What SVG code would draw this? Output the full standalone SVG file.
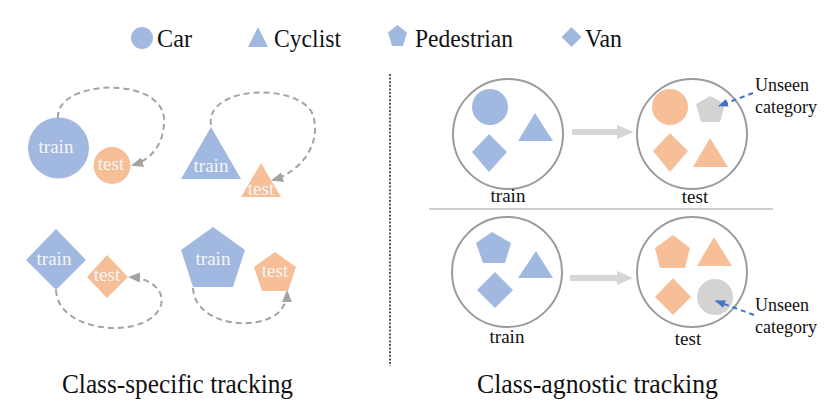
<svg xmlns="http://www.w3.org/2000/svg" width="831" height="416" viewBox="0 0 831 416" font-family="'Liberation Serif', 'DejaVu Serif', serif">
<style>
text{font-family:'Liberation Serif','DejaVu Serif',serif;fill:#111}
.b{fill:#A1B9E1}
.o{fill:#F6BF98}
.g{fill:#D3D3D3}
.lbl{fill:#F5F5F5;font-size:19px;text-anchor:middle}
.big{fill:#fff;stroke:#9B9B9B;stroke-width:2}
.cap{font-size:19px;text-anchor:middle}
.un{font-size:18px}
.leg{font-size:26px}
.ttl{font-size:28px}
.arc{fill:none;stroke:#A3A3A3;stroke-width:2;stroke-dasharray:6 4}
.bd{fill:none;stroke:#4472C4;stroke-width:2;stroke-dasharray:5 4}
</style>
<defs>
<marker id="ga" markerWidth="12" markerHeight="10" refX="10" refY="5" orient="auto" markerUnits="userSpaceOnUse"><path d="M0,0 L12,5 L0,10 z" fill="#A3A3A3"/></marker>
<marker id="ba" markerWidth="10" markerHeight="8" refX="9" refY="4" orient="auto" markerUnits="userSpaceOnUse"><path d="M0,0 L10,4 L0,8 z" fill="#4472C4"/></marker>
</defs>

<g id="legend">
<circle class="b" cx="142" cy="38" r="11"/>
<text class="leg" x="157" y="47" textLength="35" lengthAdjust="spacingAndGlyphs">Car</text>
<polygon class="b" points="258,27 248,47 268,47"/>
<text class="leg" x="274" y="47" textLength="67" lengthAdjust="spacingAndGlyphs">Cyclist</text>
<polygon class="b" points="397.5,25 407,32.5 403,46 392,46 388,32.5"/>
<text class="leg" x="415" y="47" textLength="98" lengthAdjust="spacingAndGlyphs">Pedestrian</text>
<polygon class="b" points="571.5,27 581.5,37 571.5,47 561.5,37"/>
<text class="leg" x="585" y="47" textLength="37" lengthAdjust="spacingAndGlyphs">Van</text>
</g>

<g id="dividers">
<line x1="390" y1="74" x2="390" y2="366" stroke="#222" stroke-width="1.5" stroke-dasharray="2 1.6"/>
<line x1="429" y1="209" x2="773" y2="209" stroke="#BDBDBD" stroke-width="1.5"/>
</g>

<g id="car-train"><circle class="b" cx="58.5" cy="148" r="30.5"/><text class="lbl" x="56" y="153">train</text></g>
<g id="car-test"><circle class="o" cx="112" cy="165.5" r="18.5"/><text class="lbl" x="111" y="170">test</text></g>
<g id="cyc-train"><polygon class="b" points="211,127 181,179 241,179"/><text class="lbl" x="211" y="172">train</text></g>
<g id="cyc-test"><polygon class="o" points="261,163 241,197 281,197"/><text class="lbl" x="261" y="195">test</text></g>
<g id="van-train"><polygon class="b" points="56,229 86,260 56,290 26,260"/><text class="lbl" x="54" y="265">train</text></g>
<g id="van-test"><polygon class="o" points="107,255 128,277 107,298 87,277"/><text class="lbl" x="107" y="281">test</text></g>
<g id="ped-train"><polygon class="b" points="213,227 245,250 233,287 193,287 181,250"/><text class="lbl" x="213" y="265">train</text></g>
<g id="ped-test"><polygon class="o" points="275,252 296,267 288,291 262,291 254,267"/><text class="lbl" x="275" y="277">test</text></g>

<g id="agn-train-1">
<circle class="big" cx="508" cy="134" r="55"/>
<circle class="b" cx="490" cy="107" r="18"/>
<polygon class="b" points="535,113 518,141 553,141"/>
<polygon class="b" points="489,134 507,152 489,172 472,152"/>
<text class="cap" x="508" y="202">train</text>
</g>
<g id="agn-test-1">
<circle class="big" cx="692" cy="134" r="55"/>
<circle class="o" cx="670" cy="107" r="18"/>
<polygon class="g" points="710,96 725,104 720,122 701,122 696,104"/>
<polygon class="o" points="670,133 688,151 670,172 653,151"/>
<polygon class="o" points="710,138 693,167 728,167"/>
<text class="cap" x="695" y="203">test</text>
</g>
<g id="agn-train-2">
<circle class="big" cx="507" cy="272" r="55"/>
<polygon class="b" points="492,232 511,243 505,263 483,263 476,243"/>
<polygon class="b" points="536,251 518,278 553,278"/>
<polygon class="b" points="495,272 513,290 495,308 477,290"/>
<text class="cap" x="507" y="343">train</text>
</g>
<g id="agn-test-2">
<circle class="big" cx="692" cy="272" r="55"/>
<polygon class="o" points="673,235 690,248 685,268 660,268 655,248"/>
<polygon class="o" points="714,237 697,266 732,266"/>
<polygon class="o" points="673,278 691,297 673,315 655,297"/>
<circle class="g" cx="715" cy="297" r="18"/>
<text class="cap" x="688" y="345">test</text>
</g>
<g id="unseen-1"><text class="un" x="755" y="91">Unseen</text><text class="un" x="755" y="113">category</text></g>
<g id="unseen-2"><text class="un" x="755" y="311">Unseen</text><text class="un" x="755" y="333">category</text></g>

<g id="connectors">
<path class="arc" d="M58,118 C55,80 160,75 164,118 C165,145 150,160 133,165" marker-end="url(#ga)"/>
<path class="arc" d="M211,125 C205,85 300,82 313,115 C322,145 300,172 273,180" marker-end="url(#ga)"/>
<path class="arc" d="M56,290 C58,335 150,340 161,305 C165,290 150,278 130,277" marker-end="url(#ga)"/>
<path class="arc" d="M193,288 C195,325 255,332 278,313 C284,307 287,300 287,292" marker-end="url(#ga)"/>
<path d="M572,129 L617,129 L617,125 L634,132 L617,139 L617,135 L572,135 z" fill="#D6D6D6"/>
<path d="M570,275 L617,275 L617,271 L633,278 L617,285 L617,281 L570,281 z" fill="#D6D6D6"/>
<path class="bd" d="M753,93 L719,106" marker-end="url(#ba)"/>
<path class="bd" d="M754,315 L716,301" marker-end="url(#ba)"/>
</g>

<g id="titles">
<text class="ttl" x="62" y="393" textLength="231" lengthAdjust="spacingAndGlyphs">Class-specific tracking</text>
<text class="ttl" x="477" y="393" textLength="241" lengthAdjust="spacingAndGlyphs">Class-agnostic tracking</text>
</g>
</svg>
